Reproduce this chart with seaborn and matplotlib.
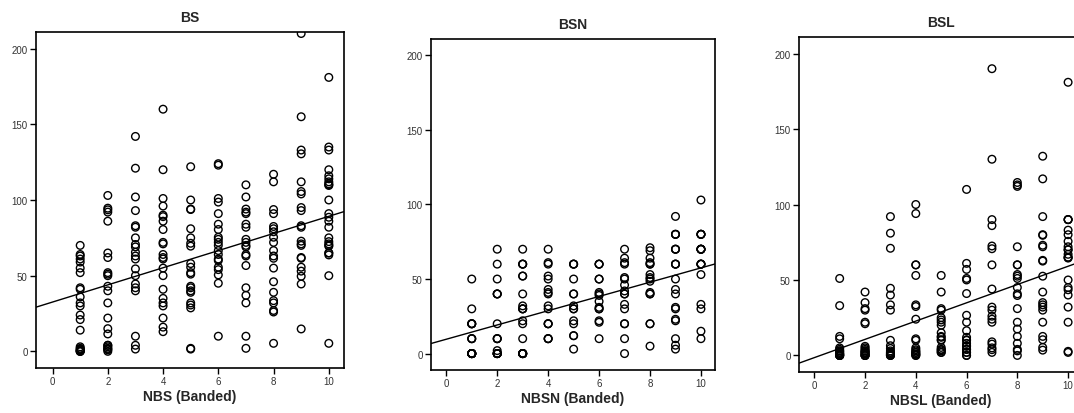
import numpy as np
import pandas as pd
import matplotlib
matplotlib.use("Agg")
import matplotlib.pyplot as plt
import seaborn as sns

# ================= 数据 (读自原图, 重叠点按粗圆圈补齐) =================
bands = [1, 2, 3, 4, 5, 6, 7, 8, 9, 10]

bs_values = [
    [70, 64, 63, 61, 59, 55, 52, 42, 41, 36, 32, 30, 24, 21, 14, 3, 2, 1.5, 1, 0.5, 0, 0, 0],
    [103, 94.6, 93.5, 92, 86, 65, 62, 52, 51, 50, 43, 40, 32, 22, 15, 11.5, 4, 4, 3, 2, 1.5, 1, 0],
    [142, 121, 102, 93, 83, 82, 75, 70.6, 69, 65.5, 63, 61, 54.5, 50, 44.5, 42, 40, 10, 4, 1.5],
    [160, 120, 101, 96, 90, 89, 86, 80.5, 72, 71, 64, 62, 61, 55, 50, 41, 35, 32, 30, 22, 16, 13],
    [122, 100, 94, 93.7, 81, 75, 71.4, 69.5, 58, 55.6, 52, 51, 43, 42, 40, 39, 32, 30.6, 28.7, 2, 1.5],
    [124, 123, 101, 98.6, 91, 84, 80.5, 75.4, 74, 72, 70, 66.6, 64, 61, 60, 55.6, 54, 50.5, 45, 10],
    [110, 102, 94, 92, 91, 84, 82, 74, 72, 70, 69, 64, 63, 56.7, 42, 37, 32, 10, 2],
    [117, 112, 93.7, 91, 82.5, 81, 79, 75.4, 72, 66.6, 63, 61.5, 55, 46, 39, 33.5, 32, 27, 26, 5.3],
    [210, 155, 133, 130.5, 112, 105.6, 104, 95, 93, 83, 82, 72.8, 71, 70, 62, 61.5, 55.6, 53, 49.6, 44.5, 14.8],
    [181, 135, 133, 120, 116, 114, 112, 110.7, 110, 109.6, 100, 91, 88.6, 86, 82, 75, 72.5, 71, 70, 69.5, 65,
     65, 63.7, 50, 5.3],
]

bsn_values = [
    [50, 30, 20, 20, 20, 20, 10, 10, 10, 0, 0, 0, 0, 0, 0, 0, 0, 0, 0],
    [70, 60, 50, 40, 40, 40, 20, 10, 10, 10, 2, 0, 0, 0, 0, 0, 0, 0],
    [70, 60, 60, 60, 52, 52, 40, 32, 30, 30, 30, 22, 20, 10, 0, 0, 0, 0, 0, 0, 0, 0],
    [70, 61, 60, 52, 50, 43, 41, 40, 32, 30, 20, 20, 20, 10, 10, 10],
    [60, 60, 60, 50, 40, 40, 32, 30, 30, 22, 20, 12, 12, 3],
    [60, 60, 60, 50, 50, 41, 40, 39, 35, 31, 30, 30, 22, 21, 10],
    [70, 64, 61, 60, 51, 50, 46, 42, 40, 40, 33, 30, 20, 20, 10, 0],
    [71, 69, 64, 61, 60, 60, 53, 51, 50, 48.5, 41, 40, 40, 20, 20, 5],
    [92, 80, 80, 80, 70, 70, 70, 60, 60, 60, 50, 43, 40, 31, 30, 23, 22, 10, 5.6, 3],
    [103, 80, 80, 80, 80, 70, 70, 70, 70, 70, 60, 60, 60, 60, 53, 33, 30, 15, 10],
]

bsl_values = [
    [51, 33, 12.6, 11, 5, 4, 3, 3, 2, 2, 1, 1, 1, 0, 0, 0, 0, 0],
    [42, 35, 31, 30, 22, 21, 6, 5, 4, 3, 3, 2, 2, 1.5, 1, 0, 0, 0, 0],
    [92, 81, 71, 44.5, 40, 33.5, 30, 10, 6.4, 4.6, 3, 2, 2, 1, 1, 0.7, 0, 0, 0],
    [100, 94, 60, 60, 53, 33.5, 32.4, 24, 11, 10, 5, 3.8, 3, 2, 2, 1, 0.7, 0, 0],
    [53, 42, 31, 30, 25, 23.5, 22, 20, 15, 12.6, 12, 10.4, 10, 5.3, 4, 3.8, 3, 2, 2],
    [110, 61, 57, 51, 50, 41, 26.6, 22, 16.4, 12, 10.4, 10, 8, 6.4, 6, 4, 4, 2, 2, 0, 0],
    [190, 130, 90, 86, 72.5, 70.7, 60, 44, 32, 30, 26, 24, 22, 9, 7.5, 5, 3.8, 2],
    [114.6, 113, 112, 72, 60, 60, 53.6, 52.5, 51, 45, 40.8, 39.7, 31, 22, 17.5, 12.6, 8, 4, 3, 0],
    [132, 117, 92, 80, 79.6, 73, 72, 63, 62.5, 52.5, 42, 35, 33.5, 32, 30, 22, 12.6, 10.4, 5.3, 3.5],
    [181, 90, 90, 90, 83, 80, 75.6, 72, 70, 70, 67, 65, 65, 64.5, 50, 45, 43.5, 40, 32, 22, 2.7, 2],
]

panels = [
    ("BS", "NBS (Banded)", bs_values, [0.0335, 0.1087, 0.2868, 0.8116]),
    ("BSN", "NBSN (Banded)", bsn_values, [0.4013, 0.1039, 0.2644, 0.7995]),
    ("BSL", "NBSL (Banded)", bsl_values, [0.7440, 0.0990, 0.2635, 0.8092]),
]


def to_frame(values):
    rows = []
    for b, ys in zip(bands, values):
        for y in ys:
            rows.append({"band": b, "value": y})
    return pd.DataFrame(rows)


sns.set_style("white")
plt.rcParams['font.family'] = ['Liberation Sans', 'DejaVu Sans']

fig = plt.figure(figsize=(10.74, 4.14), dpi=100)

for title, xlabel, values, rect in panels:
    ax = fig.add_axes(rect)
    df = to_frame(values)
    ax.set_xlim(-0.6, 10.55)
    ax.set_ylim(-11, 211)
    sns.regplot(data=df, x="band", y="value", ax=ax, ci=None, truncate=False,
                scatter_kws=dict(s=30, facecolors="none", edgecolors="black",
                                 linewidths=1.0, alpha=1),
                line_kws=dict(color="black", linewidth=1.0))
    ax.set_xlim(-0.6, 10.55)
    ax.set_ylim(-11, 211)
    ax.set_xticks([0, 2, 4, 6, 8, 10])
    ax.set_yticks([0, 50, 100, 150, 200])
    ax.tick_params(axis="both", direction="out", length=4, width=1.0, color="black",
                   labelsize=7, labelcolor="#333333", bottom=True, left=True, pad=2)
    for sp in ax.spines.values():
        sp.set_color("black")
        sp.set_linewidth(1.2)
    ax.set_title(title, fontsize=10, fontweight="bold", pad=8)
    ax.set_xlabel(xlabel, fontsize=10, fontweight="bold", labelpad=2)
    ax.set_ylabel("")

plt.savefig("out.png", dpi=100)
